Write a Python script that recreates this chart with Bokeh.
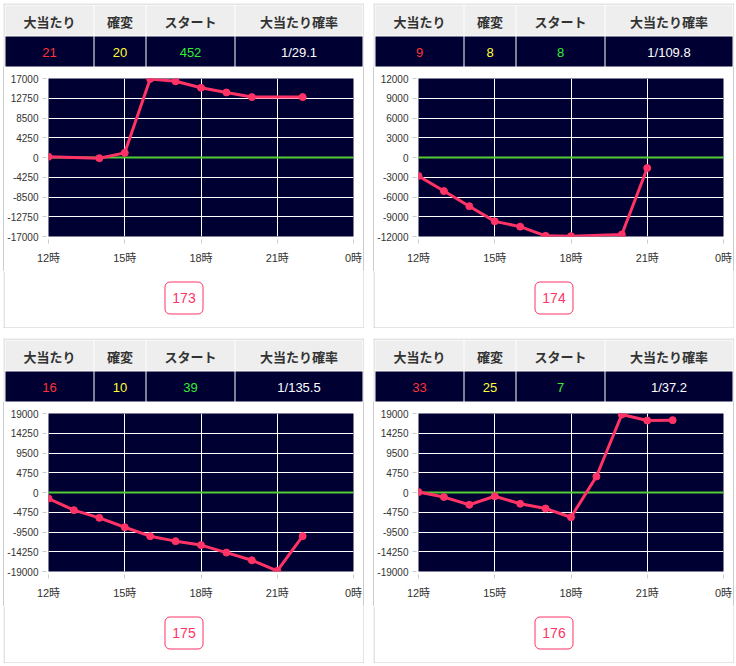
from bokeh.plotting import figure
from bokeh.layouts import row, column
from bokeh.models import Range1d, FixedTicker, Spacer, BoxAnnotation, ColumnDataSource
from bokeh.core.properties import value
from bokeh.embed import file_html
from bokeh.resources import INLINE

# ---------------- data ----------------
machines = ["173", "174", "175", "176"]
headers = ["大当たり", "確変", "スタート", "大当たり確率"]
big_hits = [21, 9, 16, 33]
kakuhen = [20, 8, 10, 25]
starts = [452, 8, 39, 7]
hit_prob = ["1/29.1", "1/109.8", "1/135.5", "1/37.2"]

hours_173 = [12, 14, 15, 16, 17, 18, 19, 20, 22]
diff_173 = [150, -150, 1000, 16900, 16400, 15000, 14000, 13000, 13000]
hours_174 = [12, 13, 14, 15, 16, 17, 18, 20, 21]
diff_174 = [-2800, -5100, -7400, -9700, -10500, -11900, -11950, -11700, -1600]
hours_175 = [12, 13, 14, 15, 16, 17, 18, 19, 20, 21, 22]
diff_175 = [-1450, -4250, -6100, -8350, -10500, -11700, -12650, -14450, -16300, -18850, -10500]
hours_176 = [12, 13, 14, 15, 16, 17, 18, 19, 20, 21, 22]
diff_176 = [100, -1100, -2950, -900, -2700, -3850, -5950, 3850, 18750, 17300, 17400]

y_limits = [17000, 12000, 19000, 19000]
x_ticks = [12, 15, 18, 21, 24]
x_tick_labels = ["12時", "15時", "18時", "21時", "0時"]
zero_line = [0]

series_hours = [hours_173, hours_174, hours_175, hours_176]
series_diff = [diff_173, diff_174, diff_175, diff_176]

# ---------------- style ----------------
NAVY = "#000033"
PINK = "#ff3366"
BORDER = "#cccccc"
JP = "'Noto Sans CJK JP'"
NUM = "'Liberation Sans', 'Noto Sans CJK JP'"
value_colors = ["#ff3333", "#ffff33", "#33ee33", "#ffffff"]

PANEL_W = 361
TABLE_H = 64
CHART_H = 204
BUTTON_H = 57
cell_left = [2, 91, 143, 232]
cell_right = [90, 142, 231, 359]

MB_L, MB_R, MB_T, MB_B = 42, 10, 11, 35


def bare_fig(w, h):
    p = figure(width=w, height=h, x_range=Range1d(0, w), y_range=Range1d(h, 0),
               min_border=0, toolbar_location=None, output_backend="svg",
               x_axis_location=None, y_axis_location=None, title=None,
               outline_line_color=None, background_fill_color="white",
               border_fill_color="white")
    p.grid.visible = False
    return p


def table_fig(i):
    p = bare_fig(PANEL_W, TABLE_H)
    # panel border (top, left, right)
    p.quad(left=[0, 0, PANEL_W - 1], right=[PANEL_W, 1, PANEL_W],
           top=[0, 0, 0], bottom=[1, TABLE_H, TABLE_H],
           fill_color=BORDER, line_color=None)
    # header cells
    p.quad(left=cell_left, right=cell_right, top=[2] * 4, bottom=[32] * 4,
           fill_color="#eeeeee", line_color=None)
    # value cells
    p.quad(left=cell_left, right=cell_right, top=[33] * 4, bottom=[63] * 4,
           fill_color=NAVY, line_color=None)
    cx = [(a + b) / 2 for a, b in zip(cell_left, cell_right)]
    p.text(x=cx, y=[17.5] * 4, text=headers, text_align="center",
           text_baseline="middle", text_font=value(JP), text_font_size="13px",
           text_font_style="bold", text_color="#333333")
    vals = [str(big_hits[i]), str(kakuhen[i]), str(starts[i]), hit_prob[i]]
    src = ColumnDataSource(dict(x=cx, y=[48.5] * 4, t=vals, c=value_colors))
    p.text(x="x", y="y", text="t", source=src, text_align="center",
           text_baseline="middle", text_font=value(NUM), text_font_size="13px",
           text_color="c")
    return p


def chart_fig(i):
    lim = y_limits[i]
    step = lim / 4
    yt = [-lim + step * k for k in range(9)]
    p = figure(width=PANEL_W - 2, height=CHART_H, x_range=Range1d(12, 24),
               y_range=Range1d(-lim, lim), toolbar_location=None,
               output_backend="svg", title=None,
               min_border_left=MB_L, min_border_right=MB_R,
               min_border_top=MB_T, min_border_bottom=MB_B,
               background_fill_color=NAVY, border_fill_color="white",
               outline_line_color=None)
    p.xgrid.ticker = FixedTicker(ticks=x_ticks)
    p.ygrid.ticker = FixedTicker(ticks=yt)
    p.grid.grid_line_color = "white"
    p.grid.grid_line_alpha = 1.0
    p.grid.grid_line_width = 1

    p.xaxis.ticker = FixedTicker(ticks=x_ticks)
    p.xaxis.major_label_overrides = {t: l for t, l in zip(x_ticks, x_tick_labels)}
    p.yaxis.ticker = FixedTicker(ticks=yt)
    p.yaxis.major_label_overrides = {t: str(int(round(t))) for t in yt}
    for ax in (p.xaxis[0], p.yaxis[0]):
        ax.axis_line_color = None
        ax.major_tick_line_color = BORDER
        ax.minor_tick_line_color = None
        ax.major_label_text_color = "#333333"
        ax.major_label_text_font = NUM
    p.xaxis.major_tick_in = -3
    p.xaxis.major_tick_out = 7
    p.xaxis.major_label_standoff = 8
    p.xaxis.major_label_text_font_size = "11px"
    p.yaxis.major_tick_in = -2
    p.yaxis.major_tick_out = 6
    p.yaxis.major_label_standoff = 4
    p.yaxis.major_label_text_font_size = "10px"

    # green zero line drawn as a glyph, beneath the series
    p.hspan(y=zero_line, line_color="#55cc33", line_width=2)
    p.line(series_hours[i], series_diff[i], line_color=PINK, line_width=3)
    p.scatter(series_hours[i], series_diff[i], size=7, fill_color=PINK,
              line_color=PINK)
    return p


def button_fig(i):
    p = bare_fig(PANEL_W, BUTTON_H)
    p.quad(left=[0, 0, PANEL_W - 1], right=[1, PANEL_W, PANEL_W],
           top=[0, BUTTON_H - 1, 0], bottom=[BUTTON_H, BUTTON_H, BUTTON_H],
           fill_color=BORDER, line_color=None)
    p.add_layout(BoxAnnotation(left=161.5, right=199.5, top=10.5, bottom=42.5,
                               fill_color=None, line_color=PINK, line_alpha=1.0,
                               line_width=1, border_radius=5))
    p.text(x=[180.5], y=[26.5], text=[machines[i]], text_align="center",
           text_baseline="middle", text_font=value(NUM), text_font_size="14px",
           text_color=PINK)
    return p


def strip():
    return Spacer(width=1, height=CHART_H, styles={"background-color": BORDER})


def panel(i):
    return column(table_fig(i), row(strip(), chart_fig(i), strip()), button_fig(i))


layout = column(
    Spacer(width=736, height=3),
    row(Spacer(width=3, height=325), panel(0), Spacer(width=9, height=325), panel(1)),
    Spacer(width=736, height=10),
    row(Spacer(width=3, height=325), panel(2), Spacer(width=9, height=325), panel(3)),
)

open("out.html", "w").write(file_html(layout, INLINE))
